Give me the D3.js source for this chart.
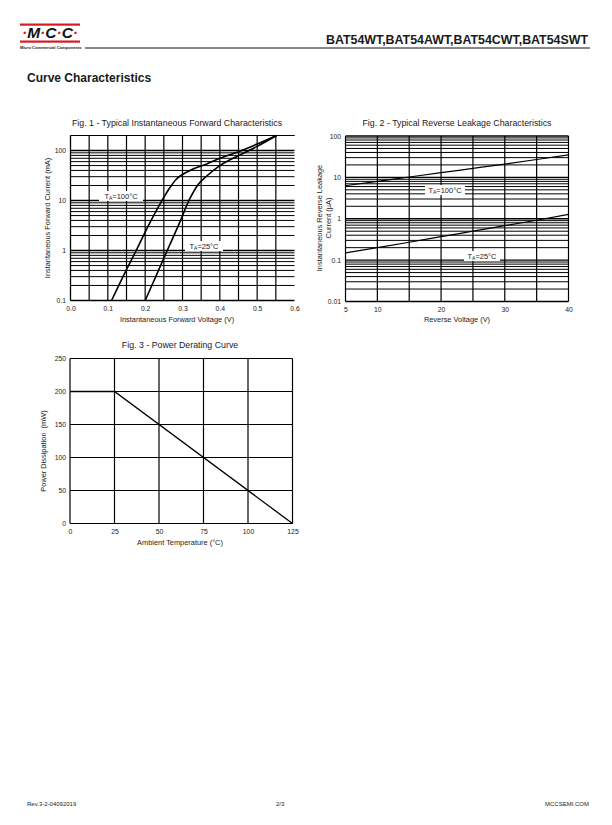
<!DOCTYPE html>
<html>
<head>
<meta charset="utf-8">
<script src="https://cdn.jsdelivr.net/npm/d3@7"></script>
<style>
  body { margin: 0; background: #fff; }
  svg { display: block; }
  text { font-family: "Liberation Sans", Arial, sans-serif; fill: #1a1a1a; }
</style>
</head>
<body>
<svg id="page" width="612" height="825"></svg>
<script>
// Fig. 1 - forward characteristics (V, mA)
var fwdV100 = [0.11, 0.145, 0.176, 0.21, 0.245, 0.266, 0.284, 0.32, 0.365, 0.4, 0.45, 0.5, 0.552];
var fwdI100 = [0.1, 0.35, 1, 3.3, 10, 18, 27, 40, 54, 70, 95, 135, 200];
var fwdV25 = [0.2, 0.23, 0.259, 0.29, 0.32, 0.342, 0.365, 0.4, 0.45, 0.5, 0.552];
var fwdI25 = [0.1, 0.32, 1, 3.3, 11, 21, 31, 50, 79, 121, 200];
var fwdXTicks = [0, 0.1, 0.2, 0.3, 0.4, 0.5, 0.6];
var fwdYTicks = [0.1, 1, 10, 100];

// Fig. 2 - reverse leakage (V, uA)
var revV = [5, 10, 15, 20, 25, 30, 35, 40];
var revI100 = [6.3, 8, 10.2, 13, 16.5, 21, 27, 35];
var revI25 = [0.15, 0.2, 0.27, 0.37, 0.5, 0.68, 0.92, 1.27];
var revXTicks = [5, 10, 20, 30, 40];
var revYTicks = [0.01, 0.1, 1, 10, 100];

// Fig. 3 - power derating (degC, mW)
var ambT = [0, 25, 125];
var powerMW = [200, 200, 0];
var ambTicks = [0, 25, 50, 75, 100, 125];
var powerTicks = [0, 50, 100, 150, 200, 250];

var svg = d3.select("#page");

// ---------- header ----------
var hdr = svg.append("g");
hdr.append("rect").attr("x", 20).attr("y", 23.5).attr("width", 60).attr("height", 2.2).attr("fill", "#d71920");
hdr.append("rect").attr("x", 20).attr("y", 40.5).attr("width", 60).attr("height", 2.2).attr("fill", "#d71920");
var logo = hdr.append("text").attr("x", 50).attr("y", 38.3).attr("text-anchor", "middle")
  .style("font-size", "15.5px").style("font-weight", "bold").style("font-style", "italic");
["·", "M", "·", "C", "·", "C", "·"].forEach(function (c) {
  logo.append("tspan").text(c).style("fill", c == "·" ? "#d71920" : "#111");
});
hdr.append("text").attr("x", 20).attr("y", 49).text("Micro Commercial Components")
  .style("font-size", "4.1px").style("font-weight", "bold");
hdr.append("line").attr("x1", 85).attr("x2", 590).attr("y1", 48).attr("y2", 48)
  .attr("stroke", "#111").attr("stroke-width", 1);
hdr.append("text").attr("x", 588).attr("y", 44).attr("text-anchor", "end")
  .text("BAT54WT,BAT54AWT,BAT54CWT,BAT54SWT")
  .style("font-size", "12.4px").style("font-weight", "bold");
hdr.append("text").attr("x", 27).attr("y", 82).text("Curve Characteristics")
  .style("font-size", "12px").style("font-weight", "bold");

// ---------- footer ----------
var ftr = svg.append("g").style("font-size", "6px");
ftr.append("text").attr("x", 27).attr("y", 806).text("Rev.3-2-04092019");
ftr.append("text").attr("x", 276).attr("y", 806).text("2/3");
ftr.append("text").attr("x", 589).attr("y", 806).attr("text-anchor", "end").text("MCCSEMI.COM");

// helpers
function hLine(g, x1, x2, yy, w) {
  g.append("line").attr("x1", x1).attr("x2", x2).attr("y1", yy).attr("y2", yy)
    .attr("stroke", "#000").attr("stroke-width", w);
}
function vLine(g, xx, y1, y2, w) {
  g.append("line").attr("x1", xx).attr("x2", xx).attr("y1", y1).attr("y2", y2)
    .attr("stroke", "#000").attr("stroke-width", w);
}
function tempLabel(g, cx, cy, rest, boxW) {
  g.append("rect").attr("x", cx - boxW / 2).attr("y", cy - 5).attr("width", boxW).attr("height", 10).attr("fill", "#fff");
  var t = g.append("text").attr("x", cx).attr("y", cy + 2.5).attr("text-anchor", "middle").style("font-size", "7.5px");
  t.append("tspan").text("T");
  t.append("tspan").text("A").style("font-size", "5px").attr("dy", 1.5);
  t.append("tspan").text(rest).attr("dy", -1.5);
}
function yAxis(g, scale, ticks, xPos, fmt) {
  var ax = g.append("g").attr("transform", "translate(" + xPos + ",0)")
    .call(d3.axisLeft(scale).tickValues(ticks).tickSize(0).tickPadding(4).tickFormat(fmt));
  ax.select(".domain").remove();
  ax.selectAll("text").style("font-size", "6.8px").style("font-family", "Liberation Sans, Arial, sans-serif").attr("fill", "#1a1a1a");
  return ax;
}
function xAxis(g, scale, ticks, yPos, fmt) {
  var ax = g.append("g").attr("transform", "translate(0," + yPos + ")")
    .call(d3.axisBottom(scale).tickValues(ticks).tickSize(0).tickPadding(4).tickFormat(fmt));
  ax.select(".domain").remove();
  ax.selectAll("text").style("font-size", "6.8px").style("font-family", "Liberation Sans, Arial, sans-serif").attr("fill", "#1a1a1a");
  return ax;
}

// ---------- Fig. 1 ----------
var f1 = svg.append("g");
var x1 = d3.scaleLinear().domain([0, 0.6]).range([70.5, 294.5]);
var y1 = d3.scaleLog().domain([0.1, 200]).range([300.5, 135.5]);
y1.ticks().forEach(function (v) {
  var dec = Math.abs(Math.log10(v) - Math.round(Math.log10(v))) < 1e-6;
  hLine(f1, x1(0), x1(0.6), y1(v), dec ? 1.4 : 1);
});
hLine(f1, x1(0), x1(0.6), y1(200), 1.2);
d3.range(0, 12).forEach(function (i) {
  vLine(f1, x1(i * 0.05), y1(200), y1(0.1), i == 0 ? 1.3 : 1.2);
});
var fwdLine = d3.line().x(function (d) { return x1(d[0]); }).y(function (d) { return y1(d[1]); }).curve(d3.curveMonotoneX);
f1.append("path").attr("d", fwdLine(d3.zip(fwdV100, fwdI100))).attr("fill", "none").attr("stroke", "#000").attr("stroke-width", 1.6);
f1.append("path").attr("d", fwdLine(d3.zip(fwdV25, fwdI25))).attr("fill", "none").attr("stroke", "#000").attr("stroke-width", 1.6);
tempLabel(f1, 121, 196, "=100°C", 44);
tempLabel(f1, 204, 246, "=25°C", 38);
yAxis(f1, y1, fwdYTicks, 70, function (d) { return d; });
xAxis(f1, x1, fwdXTicks, 302, d3.format(".1f"));
f1.append("text").attr("x", 177).attr("y", 126).attr("text-anchor", "middle").style("font-size", "8.8px")
  .text("Fig. 1 - Typical Instantaneous Forward Characteristics");
f1.append("text").attr("x", 177).attr("y", 322).attr("text-anchor", "middle").style("font-size", "7.4px")
  .text("Instantaneous Forward Voltage (V)");
f1.append("text").attr("transform", "translate(50,218) rotate(-90)").attr("text-anchor", "middle").style("font-size", "7.4px")
  .text("Instantaneous Forward Current (mA)");

// ---------- Fig. 2 ----------
var f2 = svg.append("g");
var x2 = d3.scaleLinear().domain([5, 40]).range([345.5, 568.5]);
var y2 = d3.scaleLog().domain([0.01, 100]).range([301.5, 136]);
y2.ticks().forEach(function (v) {
  var dec = Math.abs(Math.log10(v) - Math.round(Math.log10(v))) < 1e-6;
  hLine(f2, x2(5), x2(40), y2(v), dec ? 1.4 : 1);
});
d3.range(5, 41, 5).forEach(function (v) {
  vLine(f2, x2(v), y2(100), y2(0.01), 1.2);
});
var revLine = d3.line().x(function (d) { return x2(d[0]); }).y(function (d) { return y2(d[1]); }).curve(d3.curveMonotoneX);
f2.append("path").attr("d", revLine(d3.zip(revV, revI100))).attr("fill", "none").attr("stroke", "#000").attr("stroke-width", 1.2);
f2.append("path").attr("d", revLine(d3.zip(revV, revI25))).attr("fill", "none").attr("stroke", "#000").attr("stroke-width", 1.2);
tempLabel(f2, 445, 190, "=100°C", 40);
tempLabel(f2, 482, 256, "=25°C", 36);
yAxis(f2, y2, revYTicks, 345, function (d) { return d; });
xAxis(f2, x2, revXTicks, 303, function (d) { return d; });
f2.append("text").attr("x", 457).attr("y", 126).attr("text-anchor", "middle").style("font-size", "8.8px")
  .text("Fig. 2 - Typical Reverse Leakage Characteristics");
f2.append("text").attr("x", 457).attr("y", 322).attr("text-anchor", "middle").style("font-size", "7.4px")
  .text("Reverse Voltage (V)");
f2.append("text").attr("transform", "translate(322,218) rotate(-90)").attr("text-anchor", "middle").style("font-size", "7.4px")
  .text("Instantaneous Reverse Leakage");
f2.append("text").attr("transform", "translate(331,218) rotate(-90)").attr("text-anchor", "middle").style("font-size", "7.4px")
  .text("Current (µA)");

// ---------- Fig. 3 ----------
var f3 = svg.append("g");
var x3 = d3.scaleLinear().domain([0, 125]).range([70, 292.5]);
var y3 = d3.scaleLinear().domain([0, 250]).range([523.5, 358.5]);
powerTicks.forEach(function (v) { hLine(f3, x3(0), x3(125), y3(v), 1.2); });
ambTicks.forEach(function (v) { vLine(f3, x3(v), y3(250), y3(0), 1.2); });
var pLine = d3.line().x(function (d) { return x3(d[0]); }).y(function (d) { return y3(d[1]); });
f3.append("path").attr("d", pLine(d3.zip(ambT, powerMW))).attr("fill", "none").attr("stroke", "#000").attr("stroke-width", 1.3);
yAxis(f3, y3, powerTicks, 70, function (d) { return d; });
xAxis(f3, x3, ambTicks, 525, function (d) { return d; });
f3.append("text").attr("x", 180).attr("y", 348).attr("text-anchor", "middle").style("font-size", "8.8px")
  .text("Fig. 3 - Power Derating Curve");
f3.append("text").attr("x", 180).attr("y", 545).attr("text-anchor", "middle").style("font-size", "7.4px")
  .text("Ambient Temperature (°C)");
f3.append("text").attr("transform", "translate(46,451) rotate(-90)").attr("text-anchor", "middle").style("font-size", "7.4px")
  .style("white-space", "pre").text("Power Dissipation  (mW)");
</script>
</body>
</html>
